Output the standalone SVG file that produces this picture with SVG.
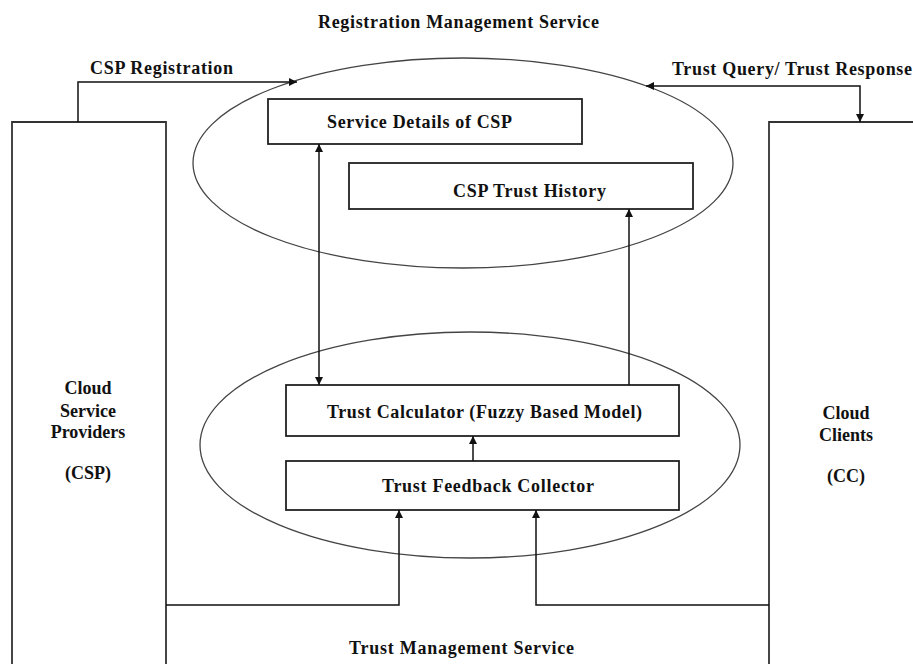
<svg xmlns="http://www.w3.org/2000/svg" width="913" height="664" viewBox="0 0 913 664">
  <defs>
    <marker id="arrow" viewBox="0 0 10 10" refX="10" refY="5" markerWidth="8" markerHeight="8" markerUnits="userSpaceOnUse" orient="auto-start-reverse">
      <path d="M0,0 L10,5 L0,10 z" fill="#111"/>
    </marker>
    <style>
      .box { fill: #fff; stroke: #222; stroke-width: 1.8; }
      .oval { fill: none; stroke: #444; stroke-width: 1.3; }
      .side { fill: none; stroke: #333; stroke-width: 1.8; }
      .wire { fill: none; stroke: #111; stroke-width: 1.5; }
      .lbl { font-family: "Liberation Serif", "Times New Roman", serif; font-weight: bold; font-size: 18px; fill: #111; }
      .mid { text-anchor: middle; }
    </style>
  </defs>
  <rect width="913" height="664" fill="#fff"/>

  <!-- service areas -->
  <g id="registration-service">
    <ellipse class="oval" cx="463" cy="163" rx="270" ry="105"/>
    <text class="lbl" x="318" y="28" textLength="281" lengthAdjust="spacing">Registration Management Service</text>
  </g>
  <g id="trust-service">
    <ellipse class="oval" cx="470" cy="445" rx="270" ry="113"/>
    <text class="lbl" x="349" y="654" textLength="225" lengthAdjust="spacing">Trust Management Service</text>
  </g>

  <!-- actors -->
  <g id="csp">
    <polyline class="side" points="12,664 12,122 166,122 166,664"/>
    <text class="lbl mid" x="88" y="394">Cloud</text>
    <text class="lbl mid" x="88" y="417">Service</text>
    <text class="lbl mid" x="88" y="438">Providers</text>
    <text class="lbl mid" x="88" y="479">(CSP)</text>
  </g>
  <g id="cc">
    <polyline class="side" points="769,664 769,122 913,122"/>
    <text class="lbl mid" x="846" y="419">Cloud</text>
    <text class="lbl mid" x="846" y="441">Clients</text>
    <text class="lbl mid" x="846" y="482">(CC)</text>
  </g>

  <!-- components -->
  <g id="service-details">
    <rect class="box" x="268" y="99" width="314" height="45"/>
    <text class="lbl" x="327" y="128" textLength="185" lengthAdjust="spacing">Service Details of CSP</text>
  </g>
  <g id="trust-history">
    <rect class="box" x="349" y="163" width="344" height="46"/>
    <text class="lbl" x="453" y="197" textLength="153" lengthAdjust="spacing">CSP Trust History</text>
  </g>
  <g id="trust-calculator">
    <rect class="box" x="286" y="385" width="393" height="51"/>
    <text class="lbl" x="327" y="418" textLength="315" lengthAdjust="spacing">Trust Calculator (Fuzzy Based Model)</text>
  </g>
  <g id="feedback-collector">
    <rect class="box" x="286" y="461" width="393" height="49"/>
    <text class="lbl" x="382" y="492" textLength="212" lengthAdjust="spacing">Trust Feedback Collector</text>
  </g>

  <!-- connectors -->
  <g id="connectors">
    <polyline class="wire" points="78,122 78,82 297,82" marker-end="url(#arrow)"/>
    <text class="lbl" x="90" y="74" textLength="143" lengthAdjust="spacing">CSP Registration</text>

    <polyline class="wire" points="646,86 860,86 860,122" marker-start="url(#arrow)" marker-end="url(#arrow)"/>
    <text class="lbl" x="672" y="75" textLength="240" lengthAdjust="spacing">Trust Query/ Trust Response</text>

    <line class="wire" x1="319" y1="144" x2="319" y2="385" marker-start="url(#arrow)" marker-end="url(#arrow)"/>
    <line class="wire" x1="629" y1="385" x2="629" y2="209" marker-end="url(#arrow)"/>
    <line class="wire" x1="473" y1="461" x2="473" y2="436" marker-end="url(#arrow)"/>

    <polyline class="wire" points="166,605 399,605 399,510" marker-end="url(#arrow)"/>
    <polyline class="wire" points="769,605 536,605 536,510" marker-end="url(#arrow)"/>
  </g>
</svg>
